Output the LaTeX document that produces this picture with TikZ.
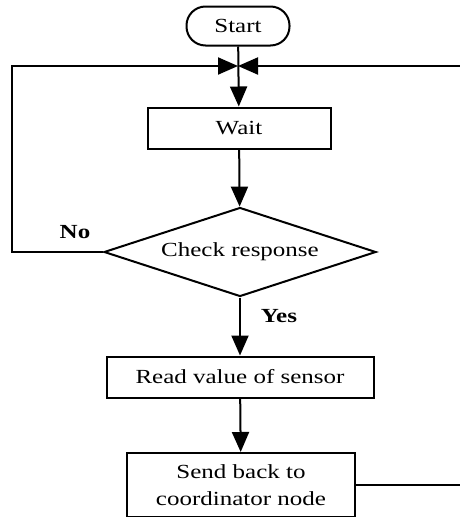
\documentclass[tikz,border=0pt]{standalone}
\usepackage{fontspec}
\setmainfont[FakeStretch=1.25]{Liberation Serif}
\usetikzlibrary{arrows.meta,shapes.geometric}

\begin{document}
\begin{tikzpicture}[x=1pt, y=-1pt, line width=2pt,
    every node/.style={font=\fontsize{20}{27}\selectfont, inner sep=0pt},
    terminal/.style={draw, rounded corners=19pt, minimum width=103pt, minimum height=39pt},
    process/.style={draw, rectangle, minimum height=41pt, align=center},
    decision/.style={draw, diamond, aspect=3.06, minimum width=272pt, minimum height=89pt},
    answer/.style={font=\fontsize{20}{27}\selectfont\bfseries},
    arr/.style={-{Triangle[length=20pt, width=17pt]}}]
    \useasboundingbox (0,0) rectangle (460,517);

    \node[terminal] (start) at (238,26) {Start};
    \coordinate (join) at (238,66);
    \node[process, minimum width=183pt] (wait) at (239,128) {Wait};
    \node[decision] (check) at (240,252) {Check response};
    \node[process, minimum width=267pt] (read) at (240,377) {Read value of sensor};
    \node[process, minimum width=228pt, minimum height=64pt] (send) at (241,485)
        {Send back to\\coordinator node};
    \node[answer] (no) at (75,232) {No};
    \node[answer] (yes) at (279,316) {Yes};

    \coordinate (nw) at (12,66);
    \coordinate (ne) at (475,66);

    \draw[arr] (start) -- (wait);
    \draw[arr] (wait) -- (check);
    \draw[arr] (check) -- (read);
    \draw[arr] (read) -- (send);
    \draw[arr] (check.west) -| (nw) -- (join);
    \draw[arr] (send.east) -| (ne) -- (join);
\end{tikzpicture}
\end{document}
